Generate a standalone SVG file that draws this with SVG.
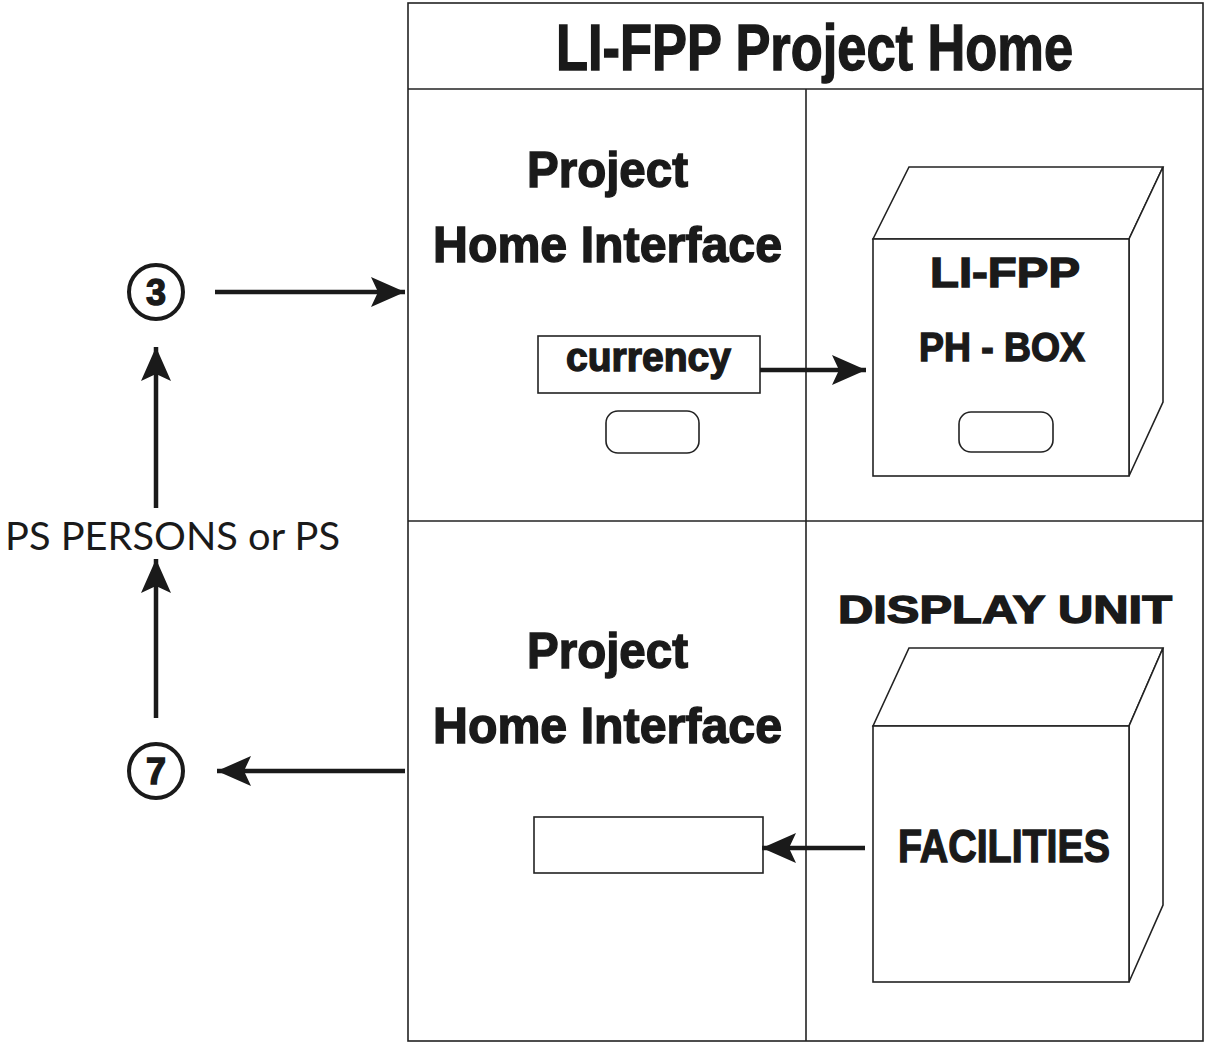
<svg xmlns="http://www.w3.org/2000/svg" width="1205" height="1043" viewBox="0 0 1205 1043">
<style>
.frame{fill:none;stroke:#222;stroke-width:1.6}
.shape{fill:#fff;stroke:#222;stroke-width:1.6}
.conn{fill:none;stroke:#1a1a1a;stroke-width:4.5}
.circ{fill:#fff;stroke:#1a1a1a;stroke-width:4}
.cond{font-family:"Liberation Sans",Arial,sans-serif;font-weight:bold;fill:#1a1a1a;stroke:#1a1a1a;stroke-width:1.4}
.round{font-family:"Lato","Noto Sans",sans-serif;fill:#1a1a1a}
</style>
<defs>
<marker id="ah" markerUnits="userSpaceOnUse" markerWidth="36" markerHeight="32" refX="34" refY="16" orient="auto">
<path d="M0,1 L34,16 L0,31 L7,16 Z" fill="#1a1a1a"/>
</marker>
</defs>
<rect width="1205" height="1043" fill="#fff"/>
<g id="frame">
<rect class="frame" x="408" y="3" width="795" height="1038"/>
<line class="frame" x1="408" y1="89" x2="1203" y2="89"/>
<line class="frame" x1="806" y1="89" x2="806" y2="1041"/>
<line class="frame" x1="408" y1="521" x2="1203" y2="521"/>
<text class="cond" x="556" y="70" font-size="64" textLength="517" lengthAdjust="spacingAndGlyphs">LI-FPP Project Home</text>
</g>
<g id="interface-top">
<text class="cond" x="527" y="187" font-size="50" textLength="161" lengthAdjust="spacingAndGlyphs">Project</text>
<text class="cond" x="433" y="262" font-size="50" textLength="349" lengthAdjust="spacingAndGlyphs">Home Interface</text>
</g>
<g id="currency">
<rect class="shape" x="538" y="336" width="222" height="57"/>
<text class="cond" x="566" y="371" font-size="40" textLength="165" lengthAdjust="spacingAndGlyphs">currency</text>
</g>
<g id="button-left">
<rect class="shape" x="606" y="411" width="93" height="42" rx="12"/>
</g>
<g id="ph-box">
<path class="shape" d="M873,239 L909,167 L1163,167 L1129,239 Z"/>
<path class="shape" d="M1129,239 L1163,167 L1163,402 L1129,476 Z"/>
<rect class="shape" x="873" y="239" width="256" height="237"/>
<text class="cond" x="930" y="287" font-size="42" textLength="150" lengthAdjust="spacingAndGlyphs">LI-FPP</text>
<text class="cond" x="919" y="361" font-size="40" textLength="166" lengthAdjust="spacingAndGlyphs">PH - BOX</text>
<rect class="shape" x="959" y="412" width="94" height="40" rx="12"/>
</g>
<g id="interface-bottom">
<text class="cond" x="527" y="668" font-size="50" textLength="161" lengthAdjust="spacingAndGlyphs">Project</text>
<text class="cond" x="433" y="743" font-size="50" textLength="349" lengthAdjust="spacingAndGlyphs">Home Interface</text>
<rect class="shape" x="534" y="817" width="229" height="56"/>
</g>
<g id="display-unit">
<text class="cond" x="838" y="623" font-size="38" textLength="334" lengthAdjust="spacingAndGlyphs">DISPLAY UNIT</text>
<path class="shape" d="M873,726 L909,648 L1163,648 L1129,726 Z"/>
<path class="shape" d="M1129,726 L1163,648 L1163,905 L1129,982 Z"/>
<rect class="shape" x="873" y="726" width="256" height="256"/>
<text class="cond" x="898" y="862" font-size="46" textLength="212" lengthAdjust="spacingAndGlyphs">FACILITIES</text>
</g>
<g id="node-3">
<circle class="circ" cx="156" cy="292" r="27"/>
<text class="cond" x="156" y="305" font-size="36" text-anchor="middle">3</text>
</g>
<g id="node-7">
<circle class="circ" cx="156" cy="771" r="27"/>
<text class="cond" x="156" y="784" font-size="36" text-anchor="middle">7</text>
</g>
<g id="label-ps">
<text class="round" x="5" y="550" font-size="38" textLength="335" lengthAdjust="spacingAndGlyphs">PS PERSONS or PS</text>
</g>
<g id="connectors">
<line class="conn" x1="215" y1="292" x2="405" y2="292" marker-end="url(#ah)"/>
<line class="conn" x1="760" y1="370" x2="866" y2="370" marker-end="url(#ah)"/>
<line class="conn" x1="405" y1="771" x2="217" y2="771" marker-end="url(#ah)"/>
<line class="conn" x1="865" y1="848" x2="762" y2="848" marker-end="url(#ah)"/>
<line class="conn" x1="156" y1="508" x2="156" y2="347" marker-end="url(#ah)"/>
<line class="conn" x1="156" y1="718" x2="156" y2="559" marker-end="url(#ah)"/>
</g>
</svg>
